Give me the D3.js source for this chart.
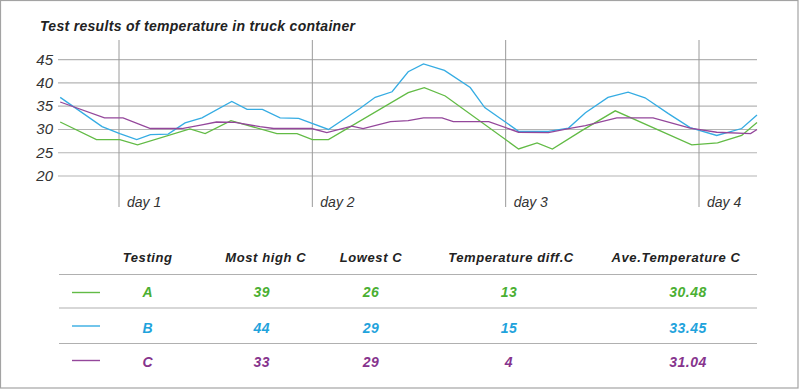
<!DOCTYPE html>
<html>
<head>
<meta charset="utf-8">
<script src="https://cdn.jsdelivr.net/npm/d3@7"></script>
<style>
  html, body { margin: 0; padding: 0; background: #fff; }
  svg { display: block; font-family: "Liberation Sans", Arial, sans-serif; }
</style>
</head>
<body>
<svg id="chart" width="800" height="390"></svg>
<script>
// ---------- DATA ----------
const title = "Test results of temperature in truck container";
const yTicks = [20, 25, 30, 35, 40, 45];
const dayHours = [24, 48, 72, 96];
const dayLabels = ["day 1", "day 2", "day 3", "day 4"];
const seriesNames = ["A", "B", "C"];

// [hour, temperature]
const seriesA = [[16.7,31.5],[21.2,27.7],[24.1,27.7],[26.3,26.6],[32.8,30.0],[34.7,29.0],[37.9,31.8],[43.6,29.0],[46.1,29.0],[48.0,27.7],[50.0,27.7],[59.9,37.8],[61.9,38.9],[64.5,37.1],[73.6,25.7],[75.9,27.0],[77.8,25.7],[81.5,29.7],[85.6,33.9],[95.1,26.6],[98.3,27.0],[101.3,28.6],[103.2,31.4]];
const seriesB = [[16.7,36.8],[21.9,30.5],[24.1,29.0],[26.2,27.7],[27.9,28.8],[30.1,28.9],[32.2,31.3],[34.3,32.4],[38.0,35.9],[39.9,34.2],[41.8,34.2],[44.0,32.4],[46.3,32.3],[50.0,29.9],[53.9,34.4],[55.8,36.8],[57.9,38.0],[59.9,42.3],[61.8,44.0],[64.4,42.6],[67.6,38.9],[69.4,34.6],[73.6,29.5],[77.3,29.5],[79.8,30.2],[81.9,33.5],[84.7,36.8],[87.2,37.9],[89.3,36.7],[92.2,33.3],[94.9,30.3],[98.2,28.6],[101.3,30.1],[103.2,33.0]];
const seriesC = [[16.7,35.8],[22.2,32.4],[24.5,32.4],[27.9,30.1],[31.8,30.1],[34.3,30.9],[36.1,31.5],[38.4,31.4],[41.5,30.5],[43.2,30.1],[47.9,30.1],[49.8,29.2],[52.9,30.6],[54.3,30.1],[57.7,31.6],[59.9,31.8],[61.8,32.4],[64.1,32.4],[65.5,31.6],[69.9,31.6],[73.6,29.3],[77.3,29.2],[79.8,30.1],[81.9,30.7],[85.8,32.4],[90.3,32.4],[94.9,30.2],[98.2,29.3],[102.4,29.0],[103.2,29.9]];

const tableHeaders = ["Testing", "Most high C", "Lowest C", "Temperature diff.C", "Ave.Temperature C"];
const mostHigh = ["39", "44", "33"];
const lowest = ["26", "29", "29"];
const tempDiff = ["13", "15", "4"];
const aveTemp = ["30.48", "33.45", "31.04"];

// ---------- STYLE ----------
const lineColors = ["#62bb45", "#35ace3", "#94479b"];
const textColors = ["#4aaf32", "#1fa3dc", "#86338d"];

const svg = d3.select("#chart");

// frame
svg.append("rect").attr("x", 0.5).attr("y", 0.5).attr("width", 797.5).attr("height", 387.5)
  .attr("fill", "#fff").attr("stroke", "#a3a3a3").attr("stroke-width", 1.2);

// title
svg.append("text").attr("x", 40).attr("y", 31)
  .attr("font-size", 14).attr("font-weight", "bold").attr("font-style", "italic")
  .attr("fill", "#222").attr("textLength", 315).attr("lengthAdjust", "spacing")
  .text(title);

// scales
const x = d3.scaleLinear().domain([24, 96]).range([119, 699]);
const y = d3.scaleLinear().domain([20, 45]).range([175.5, 59.2]);
const plotLeft = 58, plotRight = 757;

// y axis with gridlines
const yAxis = svg.append("g").attr("transform", `translate(${plotLeft},0)`)
  .call(d3.axisLeft(y).tickValues(yTicks).tickSize(-(plotRight - plotLeft)).tickPadding(5));
yAxis.select(".domain").remove();
yAxis.selectAll(".tick line").attr("stroke", "#b4b4b4").attr("stroke-width", 1.2);
yAxis.selectAll(".tick text").attr("font-size", 15).attr("font-style", "italic")
  .attr("fill", "#333").attr("font-family", "Liberation Sans, Arial, sans-serif");

// day lines
const days = svg.append("g");
days.selectAll("line").data(dayHours).join("line")
  .attr("x1", d => x(d)).attr("x2", d => x(d))
  .attr("y1", 40).attr("y2", 207)
  .attr("stroke", "#9a9a9a").attr("stroke-width", 1);
days.selectAll("text").data(dayHours).join("text")
  .attr("x", d => x(d) + 8).attr("y", 207)
  .attr("font-size", 14).attr("font-style", "italic").attr("fill", "#333")
  .text((d, i) => dayLabels[i]);

// lines
const line = d3.line().x(d => x(d[0])).y(d => y(d[1]));
[seriesA, seriesB, seriesC].forEach((s, i) => {
  svg.append("path").datum(s).attr("d", line)
    .attr("fill", "none").attr("stroke", lineColors[i]).attr("stroke-width", 1.3)
    .attr("stroke-linejoin", "miter");
});

// ---------- TABLE ----------
const colX = [147.7, 265.7, 371, 511, 676];
const valX = [147.7, 261.7, 371, 509, 688];
const rowY = [297, 333, 366.5];
const sepY = [274.5, 308, 343.5];
const legendY = [292.5, 326, 360.5];

svg.selectAll(".hdr").data(tableHeaders).join("text").attr("class", "hdr")
  .attr("x", (d, i) => colX[i]).attr("y", 262)
  .attr("text-anchor", "middle").attr("font-size", 13).attr("font-weight", "bold")
  .attr("font-style", "italic").attr("fill", "#222").attr("letter-spacing", 0.6)
  .text(d => d);

svg.selectAll(".sep").data(sepY).join("line").attr("class", "sep")
  .attr("x1", 59).attr("x2", 757).attr("y1", d => d).attr("y2", d => d)
  .attr("stroke", "#b0b0b0").attr("stroke-width", 1.2);

seriesNames.forEach((name, i) => {
  svg.append("line").attr("x1", 72).attr("x2", 100)
    .attr("y1", legendY[i]).attr("y2", legendY[i])
    .attr("stroke", lineColors[i]).attr("stroke-width", 1.4);
  const vals = [name, mostHigh[i], lowest[i], tempDiff[i], aveTemp[i]];
  svg.selectAll(".row" + i).data(vals).join("text").attr("class", "row" + i)
    .attr("x", (d, j) => valX[j]).attr("y", rowY[i])
    .attr("text-anchor", "middle").attr("font-size", 14).attr("font-weight", "bold")
    .attr("font-style", "italic").attr("fill", textColors[i]).attr("letter-spacing", 0.5)
    .text(d => d);
});
</script>
</body>
</html>
